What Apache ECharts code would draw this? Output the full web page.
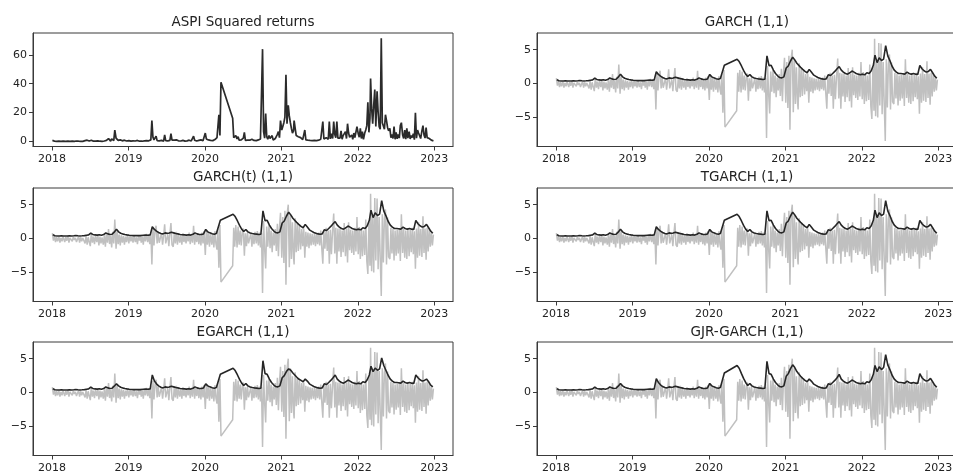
<!DOCTYPE html>
<html><head><meta charset="utf-8">
<script src="https://cdn.jsdelivr.net/npm/echarts@6/dist/echarts.min.js"></script>
<style>html,body{margin:0;padding:0;background:#fff}#c{width:953px;height:473px}</style>
</head><body><div id="c"></div>
<script>
const years = [2018, 2019, 2020, 2021, 2022];
const xTicks = [2018, 2019, 2020, 2021, 2022, 2023];
const retTicks = [-5, 0, 5];
const sqTicks = [0, 20, 40, 60];
const retDays = [3, 8, 13, 18, 23, 28];   // sample days within each month (returns)
const volDays = [5, 15, 25];              // sample days within each month (volatility)
const titles = ['ASPI Squared returns', 'GARCH (1,1)', 'GARCH(t) (1,1)', 'TGARCH (1,1)', 'EGARCH (1,1)', 'GJR-GARCH (1,1)'];

// ASPI returns (%), 6 samples per month, Jan 2018 .. Dec 2022; null = market closure
const returns = [
  // 2018
  0.8,-0.3,0.4,-0.5,0.2,-0.4,  0.3,-0.6,0.1,-0.4,0.3,-0.2,  -0.5,0.2,-0.3,0.4,-0.6,0.1,
  0.2,-0.4,0.3,-0.2,0.1,-0.5,  -0.3,0.3,-0.6,0.2,-0.4,0.1,  0.3,-0.7,0.4,-0.9,0.2,-0.5,
  -1.1,0.9,-0.6,0.3,-0.8,0.4,  -0.5,0.6,-1.0,0.3,-0.7,0.2,  -0.9,0.5,-1.2,0.8,-0.6,1.4,
  -0.8,0.4,-1.3,1.0,-0.7,2.8,  -1.5,1.2,-0.8,0.6,-1.0,0.5,  -0.6,0.4,-0.9,0.3,-0.5,0.6,
  // 2019
  -0.7,0.5,-0.4,0.3,-0.6,0.4,  -0.5,0.2,-0.8,0.4,-0.3,0.5,  -0.6,0.3,-0.9,0.6,-0.4,0.7,
  -0.5,0.6,-0.8,1.0,-3.8,1.7,  -1.0,1.2,1.9,-0.7,0.9,-0.6,  -0.5,0.8,-0.9,0.4,2.1,-0.7,
  -0.8,0.6,-1.1,0.8,2.3,-0.9,  -1.2,0.9,-0.7,1.0,-0.9,0.6,  -0.6,0.5,-0.9,0.8,-0.5,0.4,
  -0.7,0.6,-0.4,0.9,-0.8,0.5,  -0.6,1.9,-0.9,0.7,-0.5,0.8,  -0.8,0.6,-1.0,0.9,-0.7,1.1,
  // 2020
  -2.4,1.3,-0.9,1.0,-1.2,0.8,  -0.9,0.7,-1.3,1.1,-0.8,-1.6,  1.5,-4.3,2.0,-6.4,null,null,
  null,null,null,null,null,null,  null,null,-4.0,1.6,-1.2,2.0,  -1.3,1.8,-0.9,1.2,-1.0,0.9,
  1.5,-2.5,0.8,-1.1,0.9,-0.7,  -0.9,0.8,-1.2,0.6,-0.8,1.0,  -0.7,1.1,-1.0,0.9,-1.3,0.8,
  -8.0,2.6,-1.5,-4.4,1.8,-1.2,  2.0,-1.4,1.2,-2.0,0.9,-1.0,  1.4,-1.8,2.2,-2.6,1.6,3.8,
  // 2021
  -2.8,3.2,-3.6,4.1,-6.8,3.5,  5.0,-4.2,3.6,-3.0,2.4,-2.7,  -3.8,3.0,-2.0,2.2,-1.8,2.0,
  -1.6,1.4,-1.1,1.5,-2.8,1.0,  -1.2,0.9,-1.4,0.8,-1.0,0.7,  -0.9,0.8,-1.1,0.7,-0.8,0.9,
  -1.0,1.2,-1.4,-3.7,1.3,-1.5,  1.6,-1.8,1.2,-3.7,1.3,-2.3,  1.4,3.7,-2.2,1.6,-3.7,1.5,
  -1.9,1.5,-2.7,1.2,-2.0,2.3,  -2.6,1.4,-3.5,2.4,-1.7,1.3,  -2.1,1.2,-2.4,1.6,-1.9,3.2,
  // 2022
  -2.3,1.7,-3.0,1.4,-2.6,1.2,  -2.4,2.8,-3.3,-5.2,2.5,-4.0,  6.6,-4.8,3.5,-5.0,6.0,-3.2,
  5.9,-4.5,3.2,-2.9,-8.46,3.6,  -3.5,2.9,4.3,-3.8,3.1,-2.7,  -3.0,1.6,-2.2,1.4,-3.2,1.2,
  -2.5,1.3,-2.2,1.5,-3.3,3.6,  -2.1,1.4,-2.8,1.2,-3.0,1.5,  -2.6,1.3,-2.0,1.6,-2.3,1.1,
  -4.45,1.5,-2.8,2.4,-2.5,1.4,  -2.7,3.3,-2.1,1.5,-3.1,1.6,  -1.9,1.4,-1.2,0.9,-1.0,0.6
];

// Conditional volatility, 3 samples per month, Jan 2018 .. Dec 2022
const volGARCH = [
  0.6,0.42,0.4, 0.4,0.42,0.4, 0.42,0.4,0.43, 0.4,0.42,0.45, 0.42,0.4,0.42, 0.45,0.5,0.55,
  0.8,0.62,0.55, 0.52,0.58,0.5, 0.6,0.85,0.7, 0.62,0.65,0.95, 1.4,1.0,0.8, 0.7,0.6,0.55,
  0.5,0.47,0.45, 0.45,0.44,0.45, 0.47,0.5,0.52, 0.5,0.55,1.75, 1.35,1.1,0.9, 0.75,0.7,0.85,
  0.78,0.82,0.95, 0.85,0.75,0.7, 0.62,0.57,0.55, 0.52,0.58,0.52, 0.65,0.85,0.7, 0.62,0.6,0.68,
  1.35,1.0,0.85, 0.72,0.66,0.75, 0.85,2.7,null, null,null,null, null,3.6,3.25, 2.6,1.95,1.4,
  1.05,1.35,1.0, 0.82,0.75,0.7, 0.66,0.62,0.65, 4.1,2.65,2.7, 2.0,1.5,1.15, 0.9,0.85,1.0,
  2.3,2.6,3.3, 3.9,3.5,3.0, 2.8,2.4,2.1, 1.8,1.6,2.1, 1.7,1.3,1.1, 0.9,0.8,0.7,
  0.65,0.7,1.3, 1.2,1.5,1.8, 2.2,2.5,2.0, 1.7,1.5,1.4, 1.6,1.85,1.7, 1.5,1.4,1.3,
  1.4,1.3,1.6, 1.5,1.9,2.7, 4.2,3.1,3.8, 3.4,3.6,5.6, 4.1,3.4,2.6, 2.0,1.7,1.5,
  1.5,1.45,1.4, 1.7,1.5,1.4, 1.5,1.4,1.35, 2.7,2.2,1.9, 1.7,1.8,2.1, 1.6,1.1,0.8
];
const volEGARCH = [
  0.6,0.42,0.4, 0.4,0.42,0.4, 0.42,0.4,0.43, 0.4,0.42,0.45, 0.42,0.4,0.42, 0.45,0.5,0.55,
  0.8,0.62,0.55, 0.52,0.58,0.5, 0.6,0.85,0.7, 0.62,0.65,0.95, 1.3,1.0,0.8, 0.7,0.6,0.55,
  0.5,0.47,0.45, 0.45,0.44,0.45, 0.47,0.5,0.52, 0.5,0.55,2.6, 1.7,1.3,1.0, 0.8,0.7,0.85,
  0.78,0.82,0.95, 0.85,0.75,0.7, 0.62,0.57,0.55, 0.52,0.58,0.52, 0.65,0.85,0.7, 0.62,0.6,0.68,
  1.3,1.0,0.85, 0.72,0.66,0.75, 0.85,2.7,null, null,null,null, null,3.6,3.25, 2.6,1.95,1.4,
  1.05,1.35,1.0, 0.82,0.75,0.7, 0.66,0.62,0.65, 4.7,2.8,2.7, 2.0,1.5,1.15, 0.9,0.85,1.0,
  2.2,2.5,3.1, 3.5,3.3,2.9, 2.7,2.3,2.0, 1.8,1.6,2.0, 1.7,1.3,1.1, 0.9,0.8,0.7,
  0.65,0.7,1.3, 1.2,1.5,1.8, 2.2,2.6,2.0, 1.7,1.5,1.4, 1.6,1.85,1.7, 1.5,1.4,1.3,
  1.4,1.3,1.6, 1.5,1.9,2.6, 3.9,3.1,3.6, 3.3,3.5,5.1, 4.0,3.3,2.6, 2.0,1.7,1.5,
  1.5,1.45,1.4, 1.7,1.5,1.4, 1.5,1.4,1.35, 2.6,2.2,1.9, 1.7,1.8,2.0, 1.6,1.1,0.85
];
const volGJR = [
  0.6,0.42,0.4, 0.4,0.42,0.4, 0.42,0.4,0.43, 0.4,0.42,0.45, 0.42,0.4,0.42, 0.45,0.5,0.55,
  0.8,0.62,0.55, 0.52,0.58,0.5, 0.6,0.85,0.7, 0.62,0.65,0.95, 1.35,1.0,0.8, 0.7,0.6,0.55,
  0.5,0.47,0.45, 0.45,0.44,0.45, 0.47,0.5,0.52, 0.5,0.55,2.05, 1.5,1.15,0.9, 0.75,0.7,0.85,
  0.78,0.82,0.95, 0.85,0.75,0.7, 0.62,0.57,0.55, 0.52,0.58,0.52, 0.65,0.85,0.7, 0.62,0.6,0.68,
  1.35,1.0,0.85, 0.72,0.66,0.75, 0.85,2.9,null, null,null,null, null,4.0,3.6, 2.8,2.1,1.5,
  1.05,1.35,1.0, 0.82,0.75,0.7, 0.66,0.62,0.65, 4.6,2.8,2.7, 2.0,1.5,1.15, 0.9,0.85,1.0,
  2.4,2.8,3.5, 4.1,3.7,3.1, 2.8,2.4,2.1, 1.8,1.6,2.0, 1.7,1.3,1.1, 0.9,0.8,0.7,
  0.65,0.7,1.3, 1.2,1.5,1.8, 2.2,2.7,2.0, 1.7,1.5,1.4, 1.6,1.85,1.7, 1.5,1.4,1.3,
  1.4,1.3,1.6, 1.5,1.9,2.7, 4.0,3.1,3.8, 3.4,3.7,5.6, 4.1,3.4,2.6, 2.0,1.7,1.5,
  1.5,1.45,1.4, 1.7,1.5,1.4, 1.5,1.4,1.35, 2.8,2.2,1.9, 1.7,1.8,2.1, 1.6,1.1,0.8
];

function decYear(y, m, d) {
  const t0 = Date.UTC(y, 0, 1), t1 = Date.UTC(y + 1, 0, 1);
  return y + (Date.UTC(y, m - 1, d) - t0) / (t1 - t0);
}
function toPairs(vals, days, fn) {
  const out = []; let k = 0;
  for (const y of years) for (let m = 1; m <= 12; m++) for (const d of days) {
    const v = vals[k++];
    if (v !== null && v !== undefined) out.push([decYear(y, m, d), fn ? fn(v) : v]);
  }
  return out;
}
const retPairs = toPairs(returns, retDays);
const sqPairs = toPairs(returns, retDays, v => v * v);
const volSets = [null, volGARCH, volGARCH, volGARCH, volEGARCH, volGJR];

const FONT = 'DejaVu Sans';
const TXT = '#222';
const AX = '#3a3a3a';
const pos = [[33, 33], [537, 33], [33, 188], [537, 188], [33, 342], [537, 342]];
const W = 420, H = 113.5;
const titleY = [15, 15, 170, 170, 325, 325];

const grids = [], xAxes = [], yAxes = [], series = [], titleArr = [];
const fmtY = v => v < 0 ? '\u2212' + Math.abs(v) : String(v);
pos.forEach((p, i) => {
  grids.push({left: p[0], top: p[1], width: W, height: H, show: true, borderColor: AX, borderWidth: 1,
    backgroundColor: 'transparent', containLabel: false, outerBoundsMode: 'none'});
  xAxes.push({type: 'value', gridIndex: i, min: 2017.752, max: 2023.245,
    axisLine: {show: true, onZero: false, lineStyle: {color: AX, width: 1}},
    axisTick: {show: true, customValues: xTicks, length: 4, lineStyle: {color: AX}},
    axisLabel: {customValues: xTicks, color: TXT, fontSize: 11, fontFamily: FONT, margin: 7,
      formatter: v => String(Math.round(v))},
    splitLine: {show: false}});
  const isSq = i === 0;
  yAxes.push({type: 'value', gridIndex: i, min: isSq ? -3.58 : -9.26, max: isSq ? 75.2 : 7.46,
    axisLine: {show: true, onZero: false, lineStyle: {color: AX, width: 1}},
    axisTick: {show: true, customValues: isSq ? sqTicks : retTicks, length: 4, lineStyle: {color: AX}},
    axisLabel: {customValues: isSq ? sqTicks : retTicks, color: TXT, fontSize: 11, fontFamily: FONT, margin: 6,
      formatter: fmtY},
    splitLine: {show: false}});
  titleArr.push({text: titles[i], left: p[0] + W / 2, top: titleY[i], textAlign: 'center', padding: 0,
    textStyle: {fontSize: 13.5, fontWeight: 'normal', fontFamily: FONT, color: TXT}});
  if (isSq) {
    series.push({type: 'line', xAxisIndex: i, yAxisIndex: i, data: sqPairs, symbol: 'none',
      lineStyle: {color: '#2b2b2b', width: 1.7}, z: 3});
  } else {
    series.push({type: 'line', xAxisIndex: i, yAxisIndex: i, data: retPairs, symbol: 'none',
      lineStyle: {color: '#c0c0c0', width: 1.5}, z: 2});
    series.push({type: 'line', xAxisIndex: i, yAxisIndex: i, data: toPairs(volSets[i], volDays), symbol: 'none',
      lineStyle: {color: '#262626', width: 1.6}, z: 3});
  }
});

const chart = echarts.init(document.getElementById('c'), null, {renderer: 'canvas'});
chart.setOption({
  animation: false,
  backgroundColor: '#fff',
  title: titleArr,
  grid: grids, xAxis: xAxes, yAxis: yAxes, series: series
});
</script></body></html>
